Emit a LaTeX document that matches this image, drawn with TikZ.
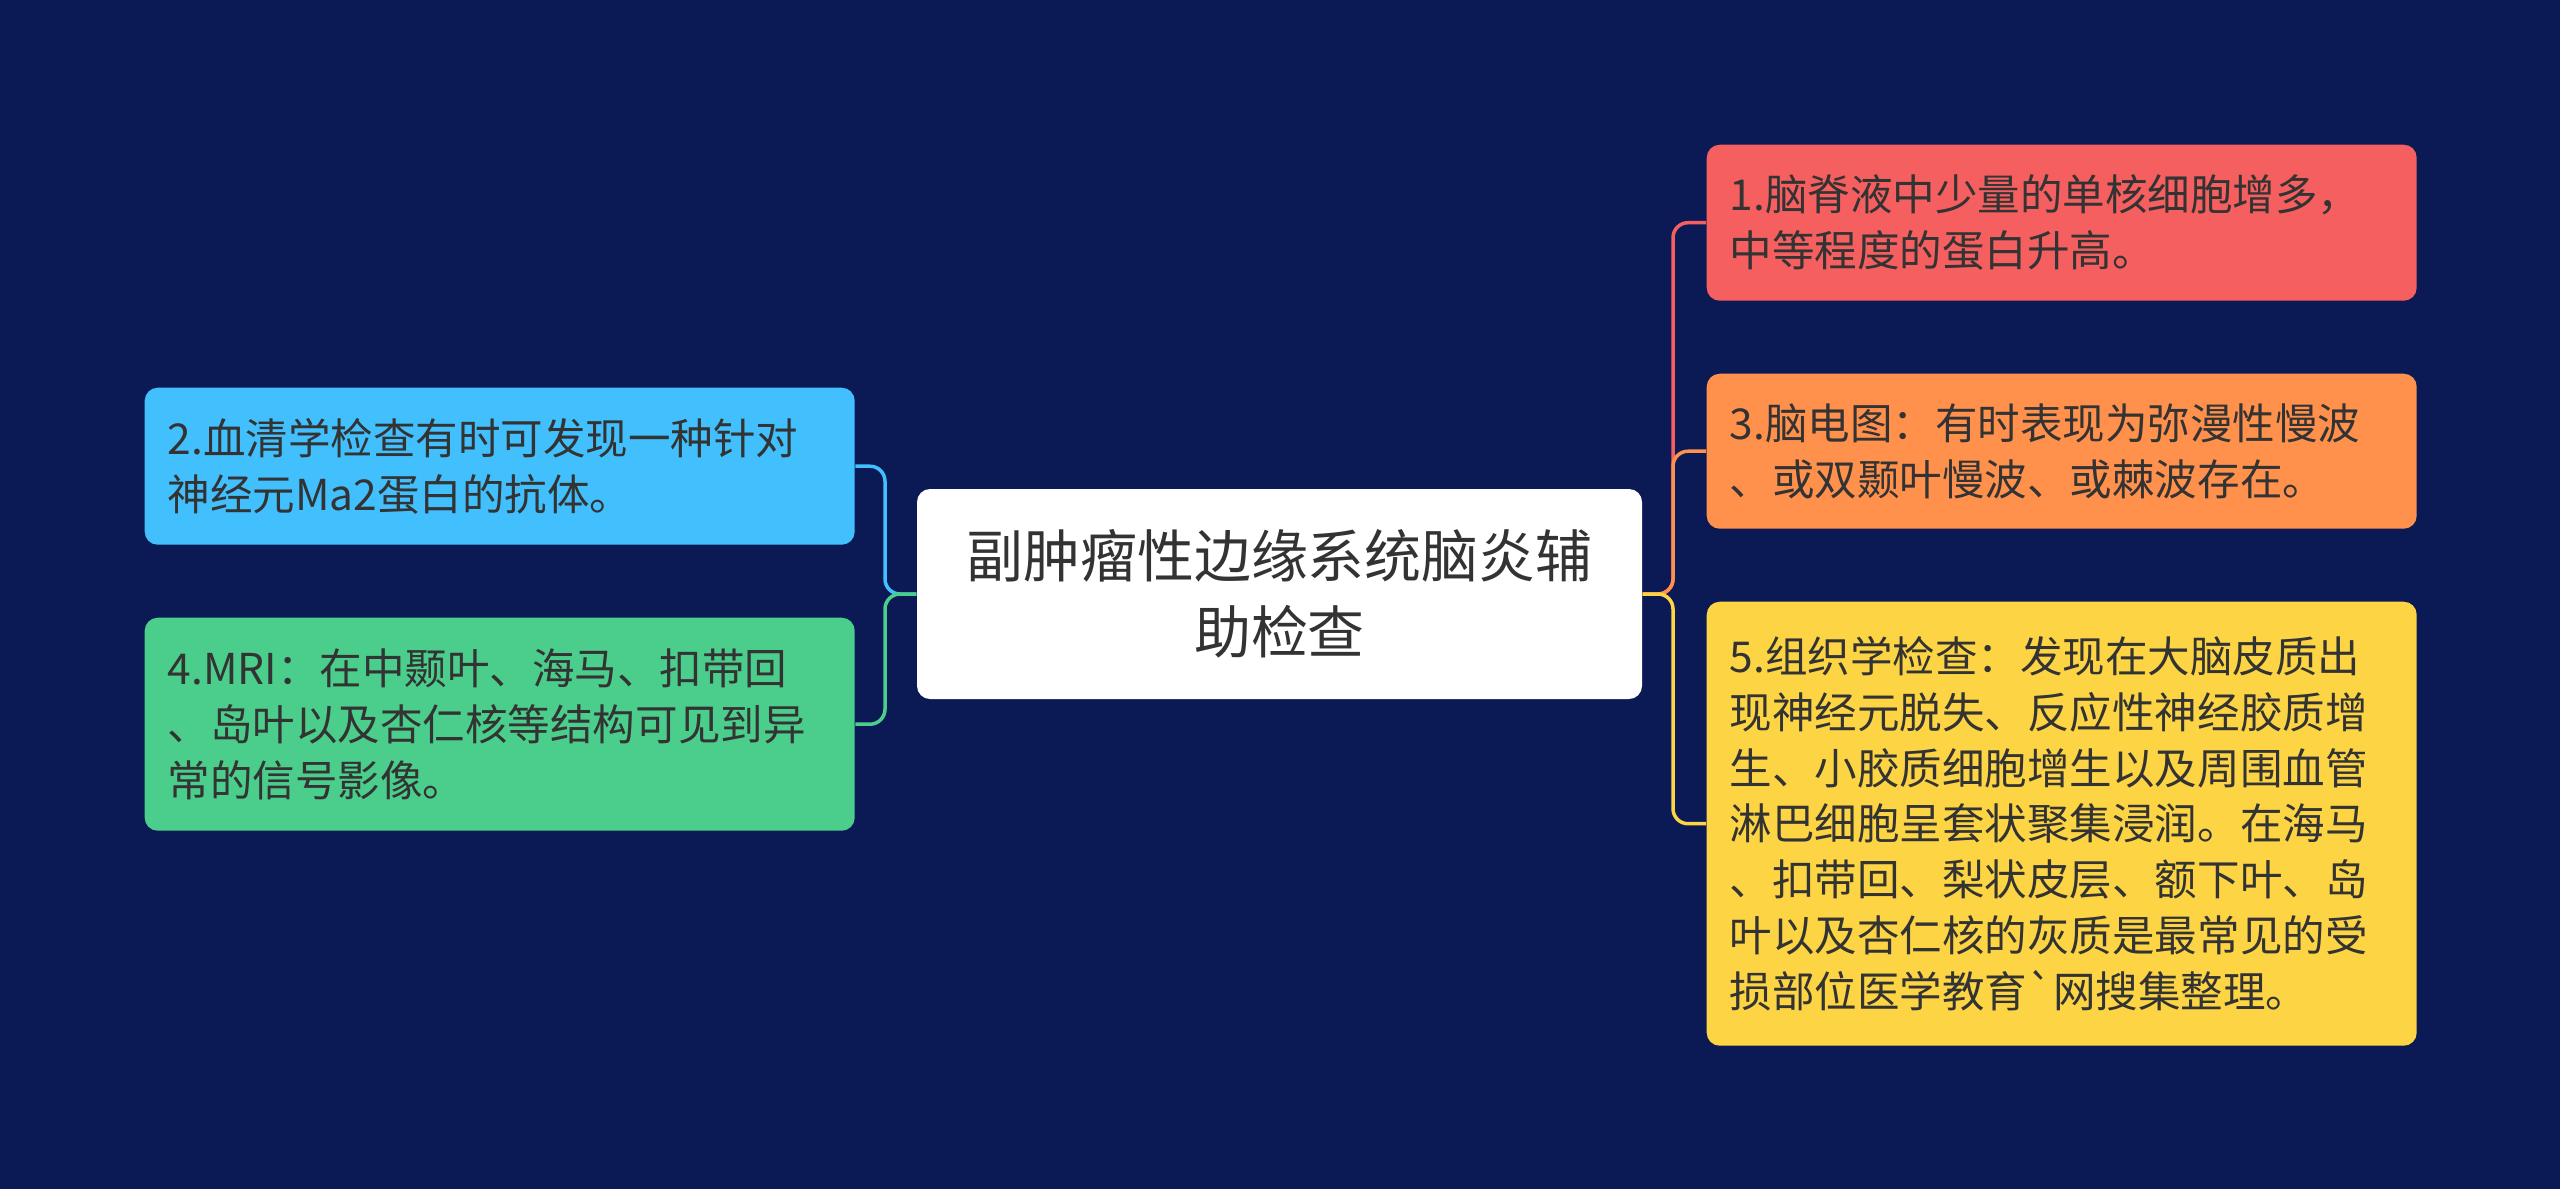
\documentclass[tikz,border=0pt]{standalone}
\usepackage{fontspec}
\newfontfamily\cjk{Noto Sans CJK SC}
\definecolor{bg}{HTML}{0B1A54}
\definecolor{cred}{HTML}{F55F5F}
\definecolor{corange}{HTML}{FF914D}
\definecolor{cyellow}{HTML}{FDD544}
\definecolor{cblue}{HTML}{42C0FE}
\definecolor{cgreen}{HTML}{4BCE8B}
\definecolor{txt}{HTML}{333333}
\tikzset{
  leaf/.style={rounded corners=0.13cm, text width=6.64cm, inner xsep=0.23cm, inner ysep=0pt,
    align=left, font=\cjk\fontsize{12.1pt}{15.9pt}\selectfont, text=txt, anchor=north west},
  conn/.style={line width=0.035cm, rounded corners=0.15cm},
}
\begin{document}
\begin{tikzpicture}
\useasboundingbox (0,0) rectangle (25.6,-11.89);
\fill[bg] (0,0) rectangle (25.6,-11.89);

\node[fill=white, rounded corners=0.13cm, minimum width=7.25cm, minimum height=2.10cm, inner sep=0pt,
  align=center, text=txt, font=\cjk\fontsize{16.2pt}{21.6pt}\selectfont] (c) at (12.795,-5.94)
  {副肿瘤性边缘系统脑炎辅\\助检查};

\node[leaf, fill=cred, minimum height=1.56cm] (n1) at (17.06,-1.44)
  {1.脑脊液中少量的单核细胞增多，\\中等程度的蛋白升高。};
\node[leaf, fill=corange, minimum height=1.55cm] (n3) at (17.06,-3.73)
  {3.脑电图：有时表现为弥漫性慢波\\、或双颞叶慢波、或棘波存在。};
\node[leaf, fill=cyellow, minimum height=4.44cm] (n5) at (17.06,-6.01)
  {5.组织学检查：发现在大脑皮质出\\现神经元脱失、反应性神经胶质增\\生、小胶质细胞增生以及周围血管\\淋巴细胞呈套状聚集浸润。在海马\\、扣带回、梨状皮层、额下叶、岛\\叶以及杏仁核的灰质是最常见的受\\损部位医学教育\symbol{96}网搜集整理。};
\node[leaf, fill=cblue, minimum height=1.57cm] (n2) at (1.44,-3.87)
  {2.血清学检查有时可发现一种针对\\神经元Ma2蛋白的抗体。};
\node[leaf, fill=cgreen, minimum height=2.13cm] (n4) at (1.44,-6.17)
  {4.MRI：在中颞叶、海马、扣带回\\、岛叶以及杏仁核等结构可见到异\\常的信号影像。};

\coordinate (rt) at (16.73,-5.94);
\coordinate (lt) at (8.85,-5.94);
\draw[conn, cred] (c.east) -- (rt) |- (n1.west);
\draw[conn, corange] (c.east) -- (rt) |- (n3.west);
\draw[conn, cyellow] (c.east) -- (rt) |- (n5.west);
\draw[conn, cblue] (c.west) -- (lt) |- (n2.east);
\draw[conn, cgreen] (c.west) -- (lt) |- (n4.east);
\end{tikzpicture}
\end{document}
